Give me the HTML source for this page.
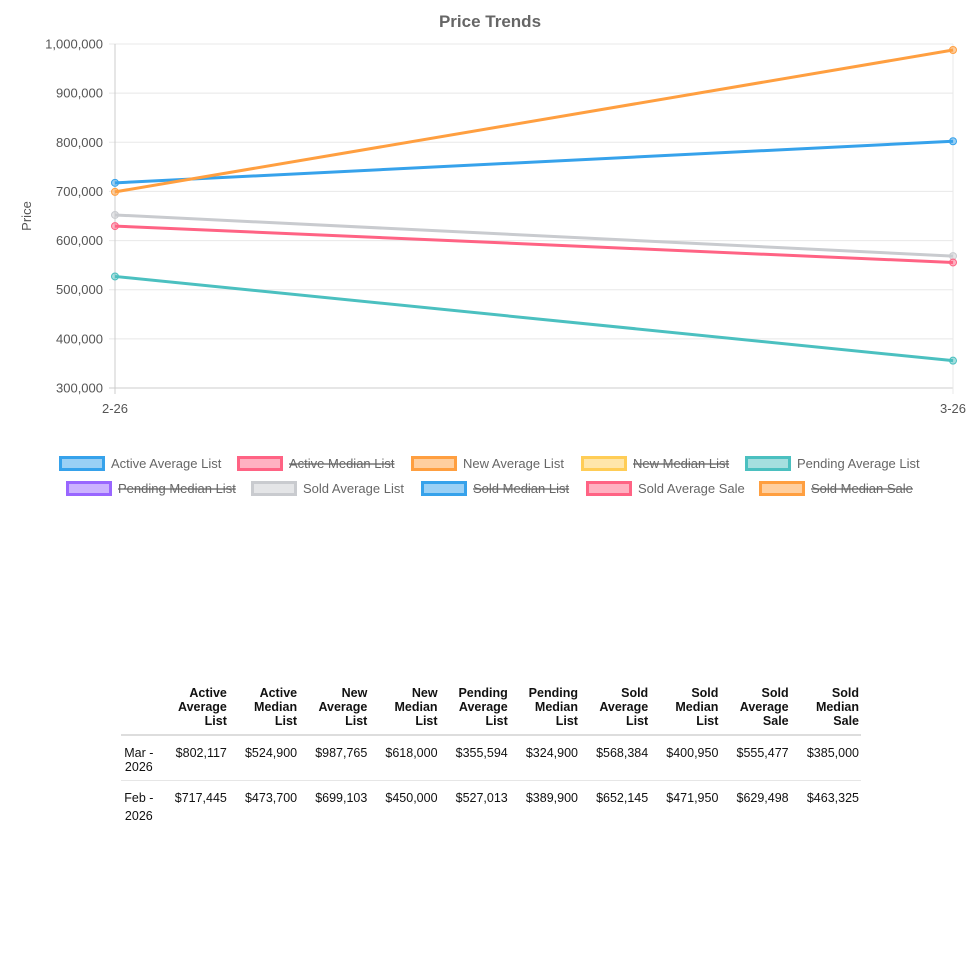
<!DOCTYPE html>
<html><head><meta charset="utf-8"><style>
body{margin:0;background:#fff;width:980px;height:980px;overflow:hidden;font-family:"Liberation Sans",sans-serif}
table{position:absolute;left:121px;top:684px;border-collapse:collapse;font-size:12.5px;color:#111;width:740px}
th{font-weight:bold;text-align:right;vertical-align:bottom;line-height:14px;padding:2px 2px 6px 4px;border-bottom:2px solid #ddd}
td{text-align:right;vertical-align:top;padding:10px 2px 6px 4px;line-height:14px;border-bottom:1px solid #e6e6e6}
tr.r2 td{line-height:18px;padding-top:8px}
td:first-child{text-align:center;padding-left:0}
tr:last-child td{border-bottom:none}
</style></head><body>
<svg id="chart" width="980" height="520" style="position:absolute;left:0;top:0"></svg>
<table>
<tr><th></th><th>Active<br>Average<br>List</th><th>Active<br>Median<br>List</th><th>New<br>Average<br>List</th><th>New<br>Median<br>List</th><th>Pending<br>Average<br>List</th><th>Pending<br>Median<br>List</th><th>Sold<br>Average<br>List</th><th>Sold<br>Median<br>List</th><th>Sold<br>Average<br>Sale</th><th>Sold<br>Median<br>Sale</th></tr>
<tr><td>Mar -<br>2026</td><td>$802,117</td><td>$524,900</td><td>$987,765</td><td>$618,000</td><td>$355,594</td><td>$324,900</td><td>$568,384</td><td>$400,950</td><td>$555,477</td><td>$385,000</td></tr>
<tr class="r2"><td>Feb -<br>2026</td><td>$717,445</td><td>$473,700</td><td>$699,103</td><td>$450,000</td><td>$527,013</td><td>$389,900</td><td>$652,145</td><td>$471,950</td><td>$629,498</td><td>$463,325</td></tr>
</table>
<script>
const categories=["2-26","3-26"];
const seriesNames=["Active Average List","Active Median List","New Average List","New Median List","Pending Average List","Pending Median List","Sold Average List","Sold Median List","Sold Average Sale","Sold Median Sale"];
const activeAvgList=[717445,802117];
const activeMedList=[473700,524900];
const newAvgList=[699103,987765];
const newMedList=[450000,618000];
const pendingAvgList=[527013,355594];
const pendingMedList=[389900,324900];
const soldAvgList=[652145,568384];
const soldMedList=[471950,400950];
const soldAvgSale=[629498,555477];
const soldMedSale=[463325,385000];
const hidden=[false,true,false,true,false,true,false,true,false,true];
const yTicks=[300000,400000,500000,600000,700000,800000,900000,1000000];
const yTickLabels=["300,000","400,000","500,000","600,000","700,000","800,000","900,000","1,000,000"];

const allSeries=[activeAvgList,activeMedList,newAvgList,newMedList,pendingAvgList,pendingMedList,soldAvgList,soldMedList,soldAvgSale,soldMedSale];
const colors=["#36a2eb","#ff6384","#ff9f40","#ffcd56","#4bc0c0","#9966ff","#c9cbcf","#36a2eb","#ff6384","#ff9f40"];
const fills=["rgba(54,162,235,.5)","rgba(255,99,132,.5)","rgba(255,159,64,.5)","rgba(255,205,86,.5)","rgba(75,192,192,.5)","rgba(153,102,255,.5)","rgba(201,203,207,.5)","rgba(54,162,235,.5)","rgba(255,99,132,.5)","rgba(255,159,64,.5)"];
const svg=document.getElementById('chart');
const NS="http://www.w3.org/2000/svg";
const L=115,R=953,T=44,B=388,yMin=300000,yMax=1000000;
const x=i=>L+(R-L)*i/(categories.length-1);
const y=v=>B-(v-yMin)/(yMax-yMin)*(B-T);
function mk(tag,attrs){const e=document.createElementNS(NS,tag);for(const k in attrs)e.setAttribute(k,attrs[k]);svg.appendChild(e);return e;}
let t=mk('text',{x:490,y:27,'text-anchor':'middle','font-size':17,'font-weight':'bold',fill:'#666'});t.textContent="Price Trends";


yTicks.forEach((v,i)=>{
 const g=mk('line',{x1:L-6,x2:R,y1:y(v),y2:y(v),stroke:i==0?'#ccc':'#e8e8e8','stroke-width':1});
 
 
 const tx=mk('text',{x:L-12,y:y(v)+4.5,'text-anchor':'end','font-size':13,fill:'#555'});tx.textContent=yTickLabels[i];
 
 
});
categories.forEach((c,i)=>{
 const g=mk('line',{x1:x(i),x2:x(i),y1:T,y2:B+6,stroke:i==0?'#ccc':'#e8e8e8'});
 
 
 const tx=mk('text',{x:x(i),y:B+25,'text-anchor':'middle','font-size':13,fill:'#555'});tx.textContent=c;
 
 
});
t=mk('text',{x:31,y:216,'text-anchor':'middle','font-size':13,fill:'#555',transform:'rotate(-90 31 216)'});t.textContent="Price";


allSeries.forEach((s,k)=>{
 if(hidden[k])return;
 const p=mk('polyline',{points:s.map((v,i)=>x(i)+','+y(v)).join(' '),fill:'none',stroke:colors[k],'stroke-width':3});
 
 
 s.forEach((v,i)=>{
  const c=mk('circle',{cx:x(i),cy:y(v),r:3.5,fill:fills[k],stroke:colors[k],'stroke-width':1});
  
  
 });
});
const legX=[59,237,411,581,745,66,251,421,586,759];
seriesNames.forEach((n,k)=>{
 const row=k<5?0:1,yy=row?481:456,xx=legX[k];
 const r=mk('rect',{x:xx+1.5,y:yy+1.5,width:43,height:12,fill:fills[k],stroke:colors[k],'stroke-width':3});
 
 
 const tx=mk('text',{x:xx+52,y:yy+12,'font-size':13,fill:'#666'});tx.textContent=n;
 if(hidden[k])tx.setAttribute('text-decoration','line-through');
 
 
});
</script>
</body></html>
